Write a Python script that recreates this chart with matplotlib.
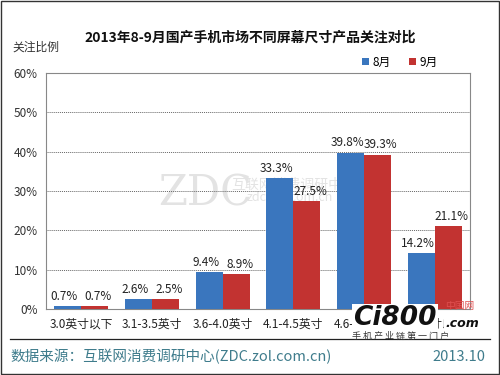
import numpy as np
import matplotlib.pyplot as plt
from matplotlib.patches import Rectangle

plt.rcParams['font.family'] = ['Noto Sans CJK SC', 'DejaVu Sans']

# 数据
categories = ['3.0英寸以下', '3.1-3.5英寸', '3.6-4.0英寸', '4.1-4.5英寸', '4.6-5.0英寸', '5.0英寸以上']
aug = [0.7, 2.6, 9.4, 33.3, 39.8, 14.2]
sep = [0.7, 2.5, 8.9, 27.5, 39.3, 21.1]
yticks = [0, 10, 20, 30, 40, 50, 60]

blue = '#3a76be'
red = '#c23331'

fig = plt.figure(figsize=(5, 3.75), dpi=100)
ax = fig.add_axes([0.092, 0.176, 0.848, 0.629])

x = np.arange(len(categories))
w = 0.38
b1 = ax.bar(x - w / 2, aug, w, color=blue, label='8月', zorder=3)
b2 = ax.bar(x + w / 2, sep, w, color=red, label='9月', zorder=3)

for rect, v in zip(b1, aug):
    ax.text(rect.get_x() + rect.get_width() / 2 - 0.05, v + 0.8, f'{v}%', ha='center', va='bottom',
            fontsize=8.5, color='#222222', zorder=5)
for rect, v in zip(b2, sep):
    ax.text(rect.get_x() + rect.get_width() / 2 + 0.05, v + 0.8, f'{v}%', ha='center', va='bottom',
            fontsize=8.5, color='#222222', zorder=5)

ax.set_xlim(-0.5, len(categories) - 0.5)
ax.set_ylim(0, 60)
ax.set_yticks(yticks)
ax.set_yticklabels([f'{t}%' for t in yticks], fontsize=8.5, color='#333333')
ax.set_xticks(x)
ax.set_xticklabels(categories, fontsize=8.5, color='#222222')
ax.tick_params(axis='both', length=0, pad=6)
ax.yaxis.grid(True, linestyle=(0, (1, 1)), color='#666666', linewidth=0.7, zorder=0)
for s in ax.spines.values():
    s.set_color('#888888')
    s.set_linewidth(0.8)

# 水印
ax.text(1.75, 29.5, 'ZDC', fontsize=30, color='#e3e3e3', ha='center', va='center',
        family='DejaVu Serif', zorder=1)
ax.text(3.0, 31.5, '互联网消费调研中心', fontsize=10, color='#e3e3e3', ha='center', va='center', zorder=1)
ax.text(2.95, 28.3, 'zdc.zol.com.cn', fontsize=9, color='#e3e3e3', ha='center', va='center', zorder=1)

fig.text(0.5, 0.9, '2013年8-9月国产手机市场不同屏幕尺寸产品关注对比', ha='center', va='center',
         fontsize=10, fontweight='bold', color='#111111')
fig.text(0.025, 0.875, '关注比例', ha='left', va='center', fontsize=8.5, color='#333333')

leg = fig.legend(loc='center', bbox_to_anchor=(0.8, 0.834), ncol=2, frameon=False,
                 fontsize=8.5, handlelength=0.6, handleheight=0.6, columnspacing=1.5, handletextpad=0.3)

# 底部
fig.add_artist(plt.Line2D([0.02, 0.98], [0.097, 0.097], color='#222222', linewidth=0.9))
fig.text(0.02, 0.048, '数据来源：互联网消费调研中心(ZDC.zol.com.cn)', ha='left', va='center',
         fontsize=10.5, color='#3f7c8c')
fig.text(0.97, 0.048, '2013.10', ha='right', va='center', fontsize=10.5, color='#3f7c8c')

# Ci800 logo（盖住最后一个分类标签，跟原图一样）
fig.text(0.79, 0.152, 'Ci800', ha='center', va='center', fontsize=19, fontweight='bold',
         fontstyle='italic', color='#111111', family='DejaVu Sans', zorder=10,
         bbox=dict(facecolor='white', edgecolor='none', pad=1))
fig.text(0.925, 0.137, '.com', ha='center', va='center', fontsize=9, fontweight='bold',
         fontstyle='italic', color='#111111', family='DejaVu Sans', zorder=10,
         bbox=dict(facecolor='white', edgecolor='none', pad=1))
fig.text(0.92, 0.185, '中国网', ha='center', va='center', fontsize=7, color='#e05050', zorder=10)
fig.text(0.8, 0.103, '手 机 产 业 链 第 一 门 户', ha='center', va='center', fontsize=6.5,
         color='#333333', zorder=10)

fig.add_artist(Rectangle((0.002, 0.003), 0.996, 0.994, transform=fig.transFigure,
                         fill=False, edgecolor='#333333', linewidth=1))

fig.savefig('out.png', dpi=100)
